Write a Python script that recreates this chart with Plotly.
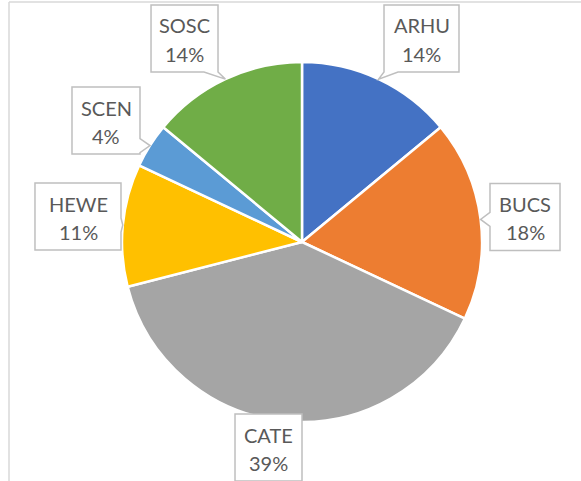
import math
import plotly.graph_objects as go

# ---- data ----
labels = ["ARHU", "BUCS", "CATE", "HEWE", "SCEN", "SOSC"]
values = [14, 18, 39, 11, 4, 14]
colors = ["#4472C4", "#ED7D31", "#A5A5A5", "#FFC000", "#5B9BD5", "#70AD47"]

# ---- layout geometry (pixels) ----
W, H = 581, 481
ML, MR, MT, MB = 122, 99, 62, 59
PW, PH = W - ML - MR, H - MT - MB
CX, CY = ML + PW / 2, MT + PH / 2
R = min(PW, PH) / 2

# callout box: centre x, centre y, width, height, pointer side
boxes = {
    "ARHU": (421.5, 38.5, 75, 67, "bottom"),
    "BUCS": (525, 217, 70, 67, "left"),
    "CATE": (268.5, 447.5, 67, 67, None),
    "HEWE": (78, 216.5, 86, 67, "right"),
    "SCEN": (106, 120.5, 68, 67, "right"),
    "SOSC": (184.5, 38.5, 67, 67, "bottom"),
}
BASE = 7  # half width of pointer base
FONT = dict(family="Lato, sans-serif", size=20, color="#595959")


def px(x, y):
    return ((x - ML) / PW, (H - MB - y) / PH)


def clamp(v, lo, hi):
    return max(lo, min(hi, v))


total = sum(values)
shapes = []
annotations = []
cum = 0
for lab, v in zip(labels, values):
    mid = (cum + v / 2) / total * 2 * math.pi
    cum += v
    tx = CX + R * math.sin(mid)
    ty = CY - R * math.cos(mid)
    bx, by, bw, bh, side = boxes[lab]
    x0, x1, y0, y1 = bx - bw / 2, bx + bw / 2, by - bh / 2, by + bh / 2
    pts = [(x0, y0), (x1, y0)]
    if side == "right":
        c = clamp(ty, y0 + BASE, y1 - BASE)
        pts += [(x1, c - BASE), (tx, ty), (x1, c + BASE)]
    pts.append((x1, y1))
    if side == "bottom":
        c = clamp(tx, x0 + BASE, x1 - BASE)
        pts += [(c + BASE, y1), (tx, ty), (c - BASE, y1)]
    pts.append((x0, y1))
    if side == "left":
        c = clamp(ty, y0 + BASE, y1 - BASE)
        pts += [(x0, c + BASE), (tx, ty), (x0, c - BASE)]
    path = "M " + " L ".join("%.4f,%.4f" % px(x, y) for x, y in pts) + " Z"
    shapes.append(dict(type="path", path=path, xref="paper", yref="paper",
                       fillcolor="white", line=dict(color="#BFBFBF", width=1.5),
                       layer="above"))
    pct = round(v / total * 100)
    for txt, dy in ((lab, -13), (f"{pct}%", 15)):
        ax, ay = px(bx, by + dy)
        annotations.append(dict(x=ax, y=ay, xref="paper", yref="paper",
                                text=txt, showarrow=False,
                                xanchor="center", yanchor="middle", font=FONT))

# chart frame
fx0, fy0 = px(9, 2)
fx1, fy1 = px(W + 5, H + 5)
shapes.insert(0, dict(type="line", xref="paper", yref="paper", x0=fx0, y0=fy0, x1=fx1, y1=fy0,
                      line=dict(color="#D9D9D9", width=1.5), layer="below"))
shapes.insert(0, dict(type="line", xref="paper", yref="paper", x0=fx0, y0=fy0, x1=fx0, y1=fy1,
                      line=dict(color="#D9D9D9", width=1.5), layer="below"))

fig = go.Figure(go.Pie(
    labels=labels, values=values, sort=False, direction="clockwise", rotation=0,
    marker=dict(colors=colors, line=dict(color="white", width=2.5)),
    textinfo="none", hoverinfo="label+percent", showlegend=False,
))
fig.update_layout(
    width=W, height=H, margin=dict(l=ML, r=MR, t=MT, b=MB),
    paper_bgcolor="white", plot_bgcolor="white",
    shapes=shapes, annotations=annotations,
)
fig.write_html("out.html", config={"displayModeBar": False},
               post_script="document.body.style.margin='0';")
